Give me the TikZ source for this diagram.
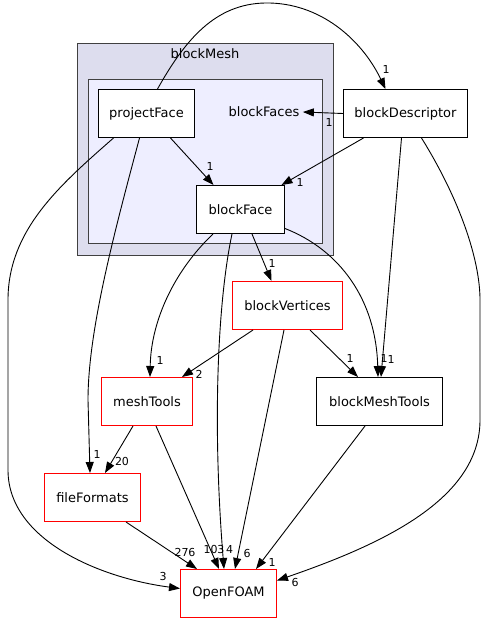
\documentclass[tikz,border=0pt]{standalone}
\usepackage{fontspec}
\setmainfont{DejaVu Sans}
\usetikzlibrary{arrows.meta,positioning}
\definecolor{outerbg}{RGB}{221,221,238}
\definecolor{innerbg}{RGB}{238,238,255}
\definecolor{frame}{RGB}{64,64,64}

\begin{document}
\begin{tikzpicture}[
  x=1pt,y=-1pt,
  font=\fontsize{13}{15}\selectfont,
  pkg/.style={draw=black,fill=white,line width=1pt,minimum height=48pt,inner sep=0pt},
  ext/.style={pkg,draw=red},
  clu/.style={draw=frame,line width=1pt},
  lbl/.style={font=\fontsize{11}{12}\selectfont,inner sep=0pt},
  dep/.style={draw=black,line width=0.9pt},
  >={Triangle[length=11pt,width=8pt]}]
\useasboundingbox (0,0) rectangle (487,623);
% clusters
\draw[clu,fill=outerbg] (77.5,43.5) rectangle (333.5,255.5);
\node (blockMesh) at (205,54) {blockMesh};
\draw[clu,fill=innerbg] (88.5,79.5) rectangle (322.5,243.5);
\node (blockFaces) at (264,112) {blockFaces};
% nodes
\node[pkg,minimum width=96pt] (projectFace) at (146.5,113.5) {projectFace};
\node[pkg,minimum width=88pt] (blockFace) at (240.5,209.5) {blockFace};
\node[pkg,minimum width=124pt] (blockDescriptor) at (405.5,113.5) {blockDescriptor};
\node[ext,minimum width=110pt] (blockVertices) at (287.5,305.5) {blockVertices};
\node[ext,minimum width=91pt] (meshTools) at (147,401.5) {meshTools};
\node[pkg,minimum width=126pt] (blockMeshTools) at (379.5,401.5) {blockMeshTools};
\node[ext,minimum width=96pt] (fileFormats) at (92.5,497.5) {fileFormats};
\node[ext,minimum width=96pt] (OpenFOAM) at (228.5,593.5) {OpenFOAM};
% dependencies
\draw[dep,->] ([xshift=11pt]projectFace.north) .. controls (185,40) and (215,4) .. (265,3)
  .. controls (320,2) and (362,40) .. ([xshift=-20pt]blockDescriptor.north)
  node[lbl] at (386,69) {1};
\draw[dep,->] (blockDescriptor.west) -- (blockFaces.east)
  node[lbl] at (329,122) {1};
\draw[dep,->] ([xshift=24pt]projectFace.south) -- ([xshift=-27pt]blockFace.north)
  node[lbl] at (210,166) {1};
\draw[dep,->] ([xshift=-42pt]blockDescriptor.south) -- ([xshift=41pt]blockFace.north)
  node[lbl] at (300,182) {1};
\draw[dep,->] ([xshift=-33pt]projectFace.south) .. controls (60,185) and (8,230) .. (8,300)
  -- (8,470) .. controls (8,540) and (100,578) .. ([yshift=5pt]OpenFOAM.west)
  node[lbl] at (163,576) {3};
\draw[dep,->] ([xshift=-7pt]projectFace.south) .. controls (115,230) and (88,330) .. (88,400)
  -- ([xshift=-2.5pt]fileFormats.north)
  node[lbl] at (97,454) {1};
\draw[dep,->] ([xshift=-27.5pt]blockFace.south) .. controls (175,270) and (151,320) .. ([xshift=3pt]meshTools.north)
  node[lbl] at (160,360) {1};
\draw[dep,->] ([xshift=-8.5pt]blockFace.south) .. controls (218,300) and (212,420) .. ([xshift=-4.5pt]OpenFOAM.north)
  node[lbl] at (229.5,549) {4};
\draw[dep,->] ([xshift=11.5pt]blockFace.south) -- ([xshift=-16pt]blockVertices.north)
  node[lbl] at (272,263) {1};
\draw[dep,->] ([yshift=-19pt]blockFace.east) .. controls (340,250) and (376,300) .. ([xshift=-1.5pt]blockMeshTools.north)
  node[lbl] at (384,358) {1};
\draw[dep,->] ([xshift=-4pt]blockDescriptor.south) -- ([xshift=1.5pt]blockMeshTools.north)
  node[lbl] at (391,359) {1};
\draw[dep,->] ([xshift=16pt]blockDescriptor.south) .. controls (460,200) and (480,260) .. (480,300)
  -- (480,420) .. controls (480,500) and (380,545) .. ([yshift=13pt]OpenFOAM.east)
  node[lbl] at (295,582) {6};
\draw[dep,->] ([xshift=-34.5pt]blockVertices.south) -- ([xshift=35pt]meshTools.north)
  node[lbl] at (199,374) {2};
\draw[dep,->] ([xshift=22.5pt]blockVertices.south) -- ([xshift=-21.5pt]blockMeshTools.north)
  node[lbl] at (350,358) {1};
\draw[dep,->] ([xshift=-3.5pt]blockVertices.south) -- ([xshift=6.5pt]OpenFOAM.north)
  node[lbl] at (247,553) {6};
\draw[dep,->] ([xshift=-14pt]meshTools.south) -- ([xshift=12.5pt]fileFormats.north)
  node[lbl] at (122,461) {20};
\draw[dep,->] ([xshift=9pt]meshTools.south) -- ([xshift=-9.5pt]OpenFOAM.north)
  node[lbl] at (214,549) {103};
\draw[dep,->] ([xshift=33.5pt]fileFormats.south) -- ([xshift=-31.5pt]OpenFOAM.north)
  node[lbl] at (185,552) {276};
\draw[dep,->] ([xshift=-14.5pt]blockMeshTools.south) -- ([xshift=27.5pt]OpenFOAM.north)
  node[lbl] at (272,562) {1};
\end{tikzpicture}
\end{document}
